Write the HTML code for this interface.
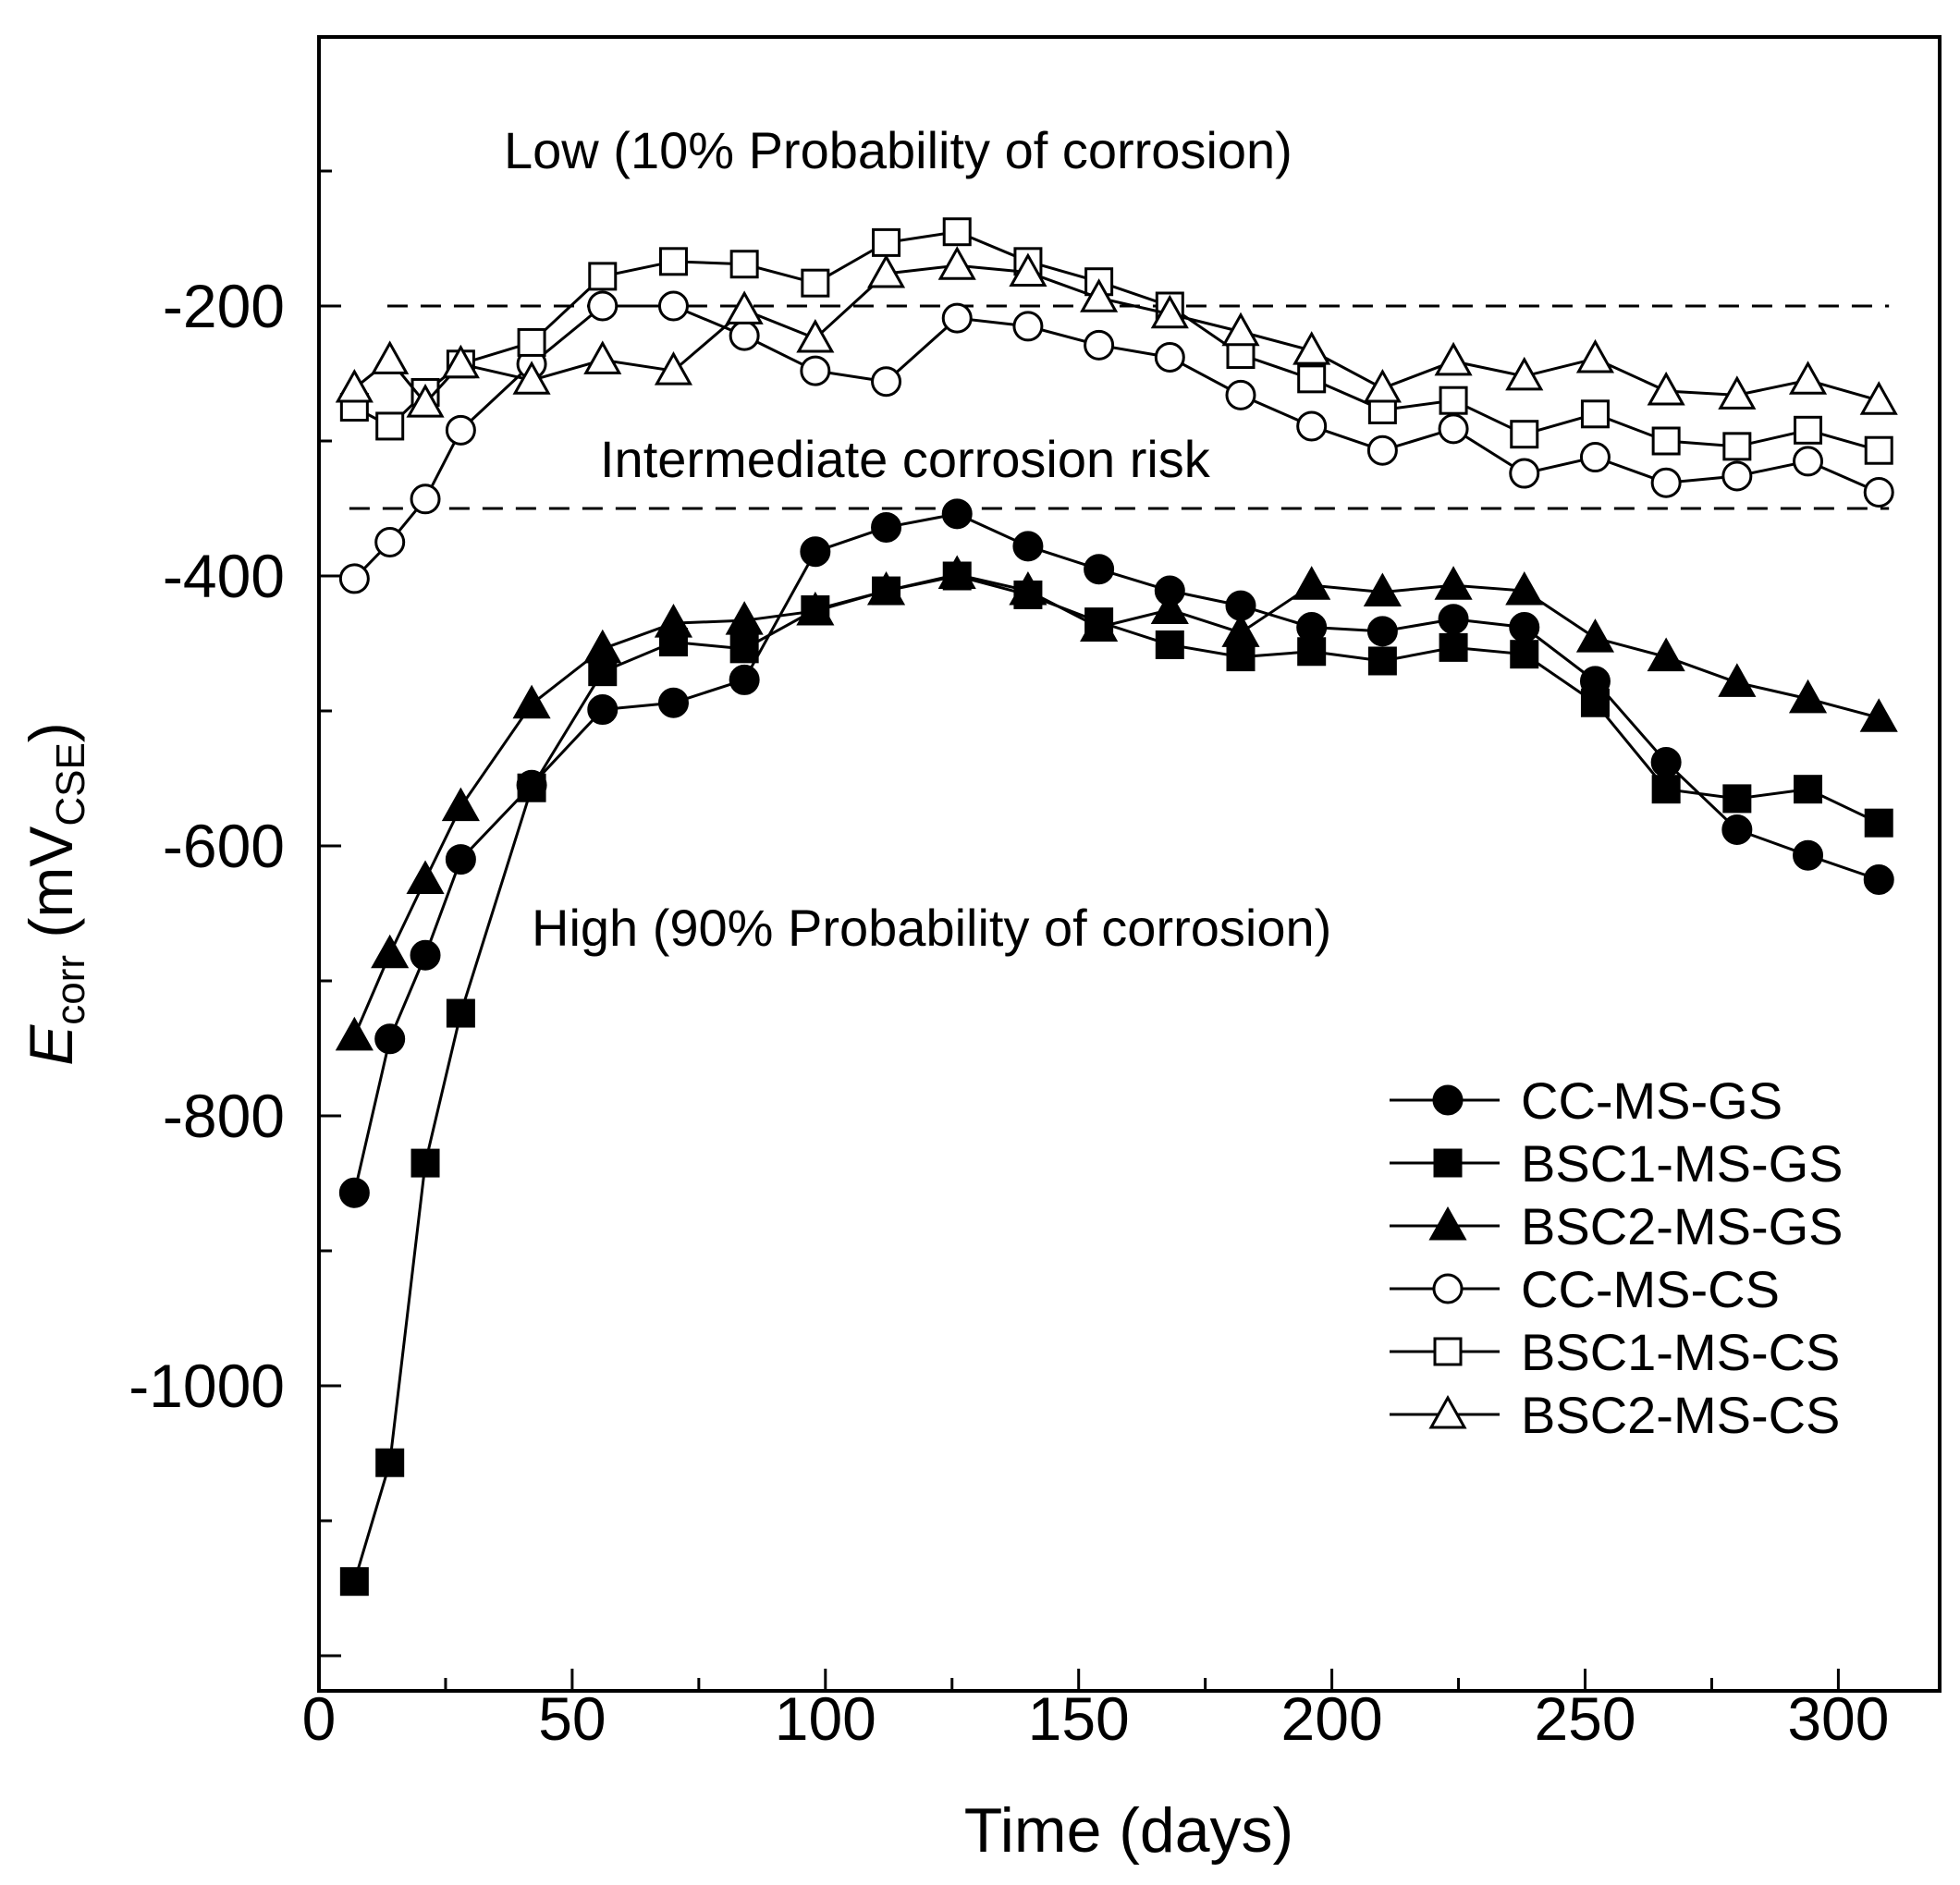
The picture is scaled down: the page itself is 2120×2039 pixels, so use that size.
<!DOCTYPE html>
<html><head><meta charset="utf-8"><style>
html,body{margin:0;padding:0;background:#fff}
svg{display:block;font-family:"Liberation Sans",Arial,sans-serif}
</style></head><body>
<svg id="chart" width="2120" height="2039" viewBox="0 0 2120 2039" xmlns="http://www.w3.org/2000/svg">
<rect width="2120" height="2039" fill="#fff"/>
<g id="plot"></g>
</svg>
<script>
const days = [7,14,21,28,42,56,70,84,98,112,126,140,154,168,182,196,210,224,238,252,266,280,294,308];
const ccGS = [-857,-743,-681,-610,-555,-499,-494,-477,-382,-364,-354,-378,-395,-411,-422,-438,-441,-432,-438,-478,-538,-588,-607,-625];
const bsc1GS = [-1145,-1057,-835,-724,-557,-471,-449,-454,-425,-411,-400,-414,-434,-451,-460,-456,-463,-453,-458,-494,-558,-565,-558,-583];
const bsc2GS = [-741,-680,-625,-571,-495,-454,-435,-433,-426,-411,-399,-411,-438,-425,-442,-407,-412,-407,-411,-446,-460,-479,-491,-505];
const ccCS = [-402,-375,-343,-292,-243,-200,-200,-222,-248,-256,-209,-215,-229,-238,-266,-289,-307,-291,-324,-312,-331,-326,-315,-338];
const bsc1CS = [-275,-289,-264,-243,-227,-178,-167,-169,-183,-153,-145,-167,-182,-200,-236,-254,-277,-270,-295,-280,-300,-304,-292,-307];
const bsc2CS = [-261,-240,-272,-243,-255,-240,-248,-203,-224,-176,-170,-175,-194,-206,-219,-233,-261,-241,-252,-239,-263,-266,-255,-270];
const seriesNames = ["CC-MS-GS","BSC1-MS-GS","BSC2-MS-GS","CC-MS-CS","BSC1-MS-CS","BSC2-MS-CS"];
const xTicks = [0,50,100,150,200,250,300];
const yTicks = [-200,-400,-600,-800,-1000];
const thresholds = [-200,-350];

const NS="http://www.w3.org/2000/svg";
const g=document.getElementById('plot');
const L=345,R=2098,T=40,B=1829;
const X=d=>L+d*5.478;
const Y=v=>39-v*1.46;
function el(tag,attrs,parent){const e=document.createElementNS(NS,tag);for(const k in attrs)e.setAttribute(k,attrs[k]);(parent||g).appendChild(e);return e;}

const frame=el('rect',{x:L,y:T,width:R-L,height:B-T,fill:'none',stroke:'#000','stroke-width':4});



for(let d=0;d<=325;d+=25){
  const major=d%50===0;
  const t=el('line',{x1:X(d),x2:X(d),y1:B,y2:B-(major?24:14),stroke:'#000','stroke-width':3});
  
  
}
xTicks.forEach(d=>{
  const t=el('text',{x:X(d),y:1882,'font-size':66,'text-anchor':'middle'});
  t.textContent=d;
  
  
});
for(let v=-100;v>=-1200;v-=100){
  const major=v%200===0;
  const t=el('line',{x1:L,x2:L+(major?24:14),y1:Y(v),y2:Y(v),stroke:'#000','stroke-width':3});
  
  
}
yTicks.forEach(v=>{
  const t=el('text',{x:308,y:Y(v)+23,'font-size':66,'text-anchor':'end'});
  t.textContent=v;
  
  
});
const xt=el('text',{x:1221,y:2003,'font-size':68,'text-anchor':'middle'});
xt.textContent='Time (days)';


const yt=el('text',{x:0,y:0,'font-size':66,'text-anchor':'middle',transform:'translate(78,967) rotate(-90)'});
yt.innerHTML='<tspan font-style="italic">E</tspan><tspan font-size="44" dy="13">corr</tspan><tspan dy="-13"> (mV</tspan><tspan font-size="44" dy="13">CSE</tspan><tspan dy="-13">)</tspan>';



const thStart=[X(13.5),X(6)];
thresholds.forEach((v,i)=>{
  const l=el('line',{x1:thStart[i],x2:X(310),y1:Y(v),y2:Y(v),stroke:'#000','stroke-width':3,'stroke-dasharray':'22 14'});
  
  
});
const labels=[['Low (10% Probability of corrosion)',545,182],['Intermediate corrosion risk',649,516],['High (90% Probability of corrosion)',575,1023]];
labels.forEach(a=>{
  const t=el('text',{x:a[1],y:a[2],'font-size':56});
  t.textContent=a[0];
  
  
});

function marker(type,fill,cx,cy,parent){
  const sw=3, stroke='#000';
  if(type==='circle') return el('circle',{cx,cy,r:15,fill,stroke,'stroke-width':sw},parent);
  if(type==='square') return el('rect',{x:cx-14,y:cy-14,width:28,height:28,fill,stroke,'stroke-width':sw},parent);
  return el('polygon',{points:`${cx},${cy-18} ${cx-18},${cy+14} ${cx+18},${cy+14}`,fill,stroke,'stroke-width':sw},parent);
}
const data=[ccGS,bsc1GS,bsc2GS,ccCS,bsc1CS,bsc2CS];
const types=['circle','square','triangle','circle','square','triangle'];
const fills=['#000','#000','#000','#fff','#fff','#fff'];
data.forEach((vals,i)=>{
  const sg=el('g',{});
  
  
  const pts=vals.map((v,j)=>X(days[j])+','+Y(v)).join(' ');
  el('polyline',{points:pts,fill:'none',stroke:'#000','stroke-width':3},sg);
  vals.forEach((v,j)=>{
    const m=marker(types[i],fills[i],X(days[j]),Y(v),sg);
    
    
  });
});
const lg=el('g',{});


const rows=[1190,1258,1326,1394,1462,1530];
seriesNames.forEach((n,i)=>{
  const eg=el('g',{},lg);
  
  
  el('line',{x1:1503,x2:1622,y1:rows[i],y2:rows[i],stroke:'#000','stroke-width':3},eg);
  marker(types[i],fills[i],1566,rows[i],eg);
  const t=el('text',{x:1645,y:rows[i]+20,'font-size':56},eg);
  t.textContent=n;
});
</script>
</body></html>
